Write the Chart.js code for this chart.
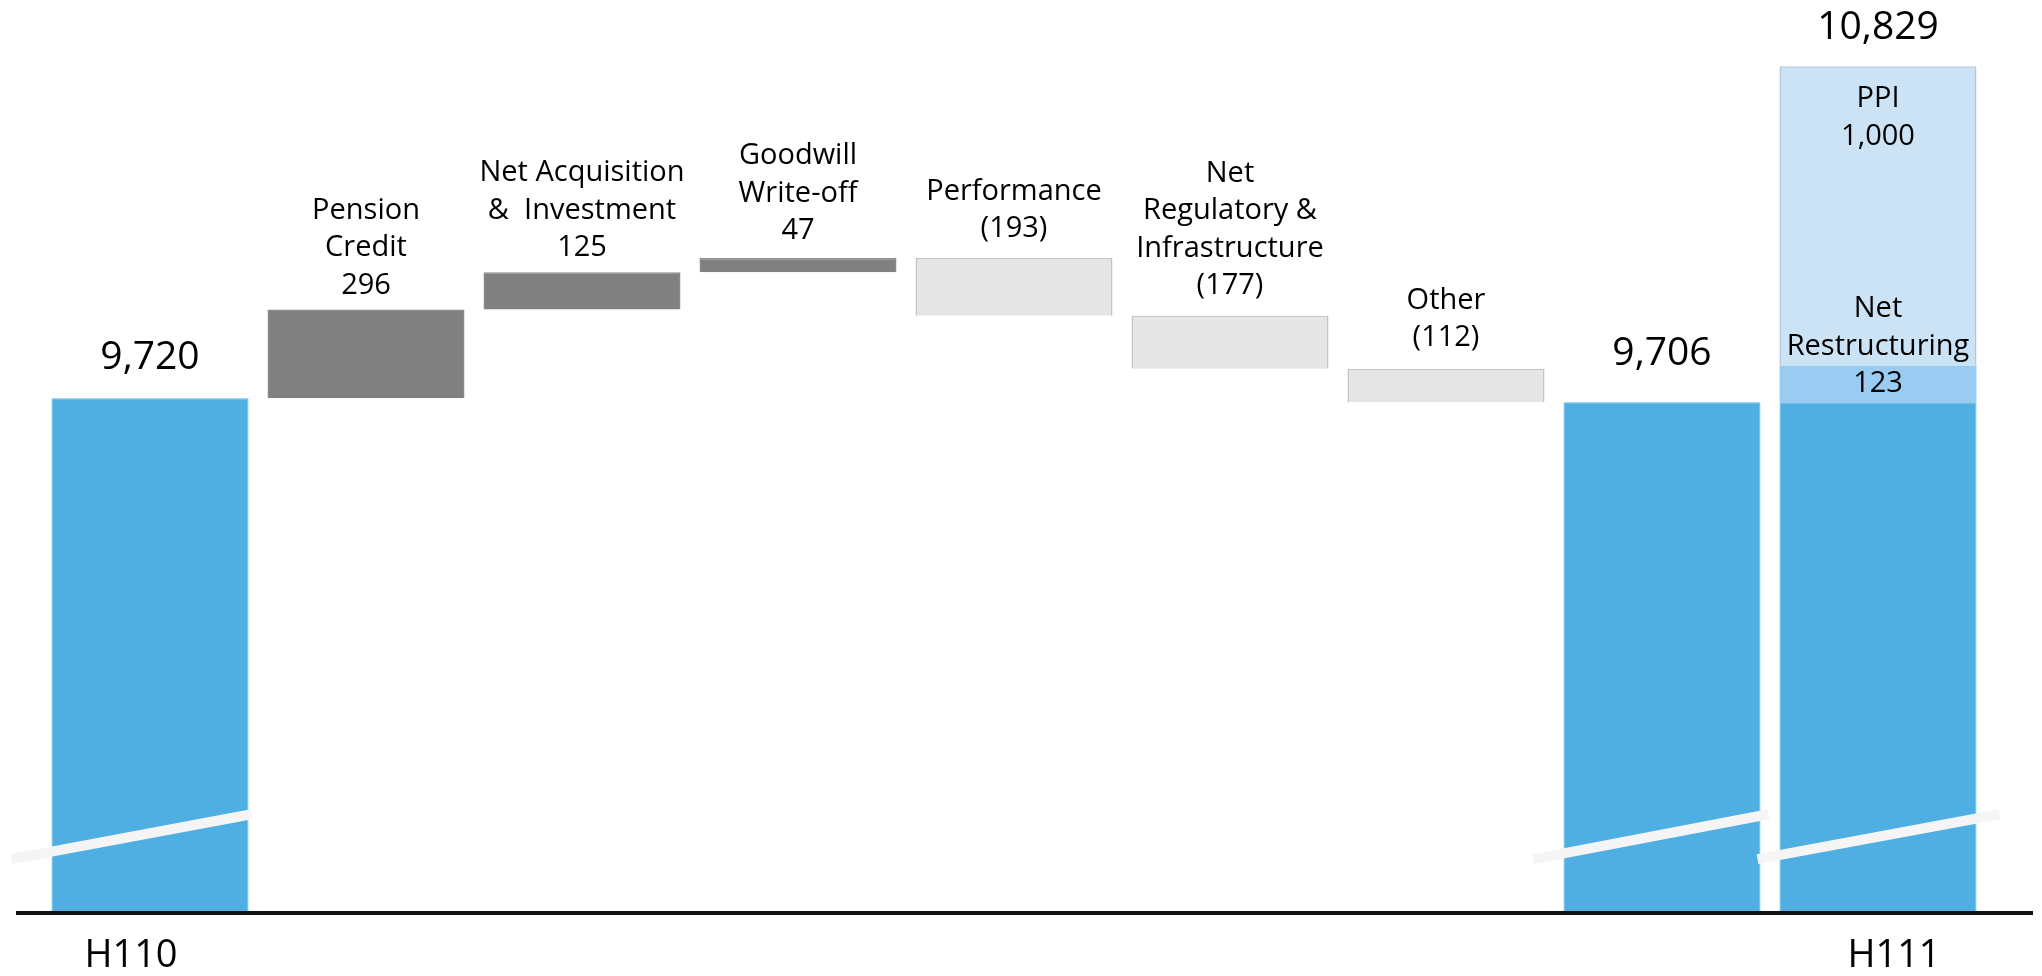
<!DOCTYPE html>
<html>
<head>
<meta charset="utf-8">
<script src="https://cdn.jsdelivr.net/npm/chart.js@4/dist/chart.umd.min.js"></script>
<style>
  html, body { margin: 0; padding: 0; background: #fff; }
  #wrap { width: 2042px; height: 976px; }
</style>
</head>
<body>
<div id="wrap"><canvas id="bridge-chart"></canvas></div>
<script>
// DATA
const categories = ['H110', 'Pension Credit', 'Net Acquisition & Investment', 'Goodwill Write-off',
  'Performance', 'Net Regulatory & Infrastructure', 'Other', 'H111 underlying', 'H111'];
const tickLabels = ['H110', '', '', '', '', '', '', '', 'H111'];
const stepNames = [[], ['Pension', 'Credit'], ['Net Acquisition', '&  Investment'], ['Goodwill', 'Write-off'],
  ['Performance'], ['Net', 'Regulatory &', 'Infrastructure'], ['Other'], [], []];
const openingTotal = 9720;
const stepChanges = [296, 125, 47, -193, -177, -112];
const closingTotal = 9706;
const adjustNames = [['Net', 'Restructuring'], ['PPI']];
const adjustValues = [123, 1000];
const axisFloor = 8000; // axis is broken, bars start here
const axisTop = 11000;

// build the waterfall ranges
const fmt = v => v < 0 ? '(' + Math.abs(v).toLocaleString('en-US') + ')' : v.toLocaleString('en-US');
const n = categories.length;
const totals = new Array(n).fill(null);
const steps = new Array(n).fill(null);
const stepColors = new Array(n).fill('#808080');
const stepBorders = new Array(n).fill('#808080');
totals[0] = [axisFloor, openingTotal];
let running = openingTotal;
stepChanges.forEach((c, i) => {
  steps[i + 1] = [running, running + c];
  stepColors[i + 1] = c >= 0 ? '#808080' : '#E5E5E5';
  stepBorders[i + 1] = c >= 0 ? '#8a8a8a' : '#C4C4C4';
  running += c;
});
totals[7] = [axisFloor, closingTotal];
totals[8] = [axisFloor, closingTotal];
const adjRanges = [];
let acc = closingTotal;
adjustValues.forEach(v => { adjRanges.push([acc, acc + v]); acc += v; });
const finalTotal = acc;
const adjData = adjRanges.map(r => { const d = new Array(n).fill(null); d[8] = r; return d; });

const FONT = "'Open Sans', 'Noto Sans', sans-serif";
const BLUE = '#4FAEE2';

// labels, break marks and base line
const decorPlugin = {
  id: 'decor',
  afterDatasetsDraw(chart) {
    const { ctx } = chart;
    const x = chart.scales.x, y = chart.scales.y;
    const half = chart.getDatasetMeta(0).data[0].width / 2;
    ctx.save();

    // break marks across the full bars
    ctx.strokeStyle = '#F5F5F5';
    ctx.lineWidth = 10;
    ctx.lineCap = 'butt';
    [[0, 40, 3], [7, 30, 8], [8, 22, 23]].forEach(([i, extL, extR]) => {
      const cx = x.getPixelForValue(i);
      ctx.beginPath();
      ctx.moveTo(cx - half - extL, y.getPixelForValue(8180));
      ctx.lineTo(cx + half + extR, y.getPixelForValue(8330));
      ctx.stroke();
    });

    // base line
    ctx.strokeStyle = '#111';
    ctx.lineWidth = 4;
    const by = y.getPixelForValue(axisFloor);
    ctx.beginPath();
    ctx.moveTo(16, by);
    ctx.lineTo(2033, by);
    ctx.stroke();

    ctx.fillStyle = '#000';
    ctx.textAlign = 'center';
    ctx.textBaseline = 'middle';

    // totals
    ctx.font = '39px ' + FONT;
    [[0, openingTotal, 40], [7, closingTotal, 48], [8, finalTotal, 38]].forEach(([i, v, gap]) => {
      ctx.fillText(fmt(v), x.getPixelForValue(i), y.getPixelForValue(v) - gap);
    });

    // step labels above each floating bar
    ctx.font = '29px ' + FONT;
    const lh = 37.5;
    const gaps = [0, 24, 24, 27, 29, 30, 31];
    stepChanges.forEach((c, k) => {
      const i = k + 1;
      const top = y.getPixelForValue(Math.max(steps[i][0], steps[i][1]));
      const lines = stepNames[i].concat([fmt(c)]);
      const cx = x.getPixelForValue(i);
      lines.forEach((t, j) => {
        ctx.fillText(t, cx, top - gaps[i] - (lines.length - 1 - j) * lh);
      });
    });

    // labels inside the final bar
    const cx8 = x.getPixelForValue(8);
    const r0 = adjRanges[0];
    const mid0 = (y.getPixelForValue(r0[0]) + y.getPixelForValue(r0[1])) / 2;
    const l0 = adjustNames[0].concat([fmt(adjustValues[0])]);
    l0.forEach((t, j) => ctx.fillText(t, cx8, mid0 - (l0.length - 1 - j) * lh));
    const top1 = y.getPixelForValue(adjRanges[1][1]);
    const l1 = adjustNames[1].concat([fmt(adjustValues[1])]);
    l1.forEach((t, j) => ctx.fillText(t, cx8, top1 + 33 + j * 38));

    // category ticks (slightly off-centre, as in the original)
    ctx.font = '38px ' + FONT;
    const tickShift = [-19, 0, 0, 0, 0, 0, 0, 0, 16];
    tickLabels.forEach((t, i) => {
      if (t) ctx.fillText(t, x.getPixelForValue(i) + tickShift[i], by + 43);
    });
    ctx.restore();
  }
};

const cfg = {
  type: 'bar',
  data: {
    labels: categories,
    datasets: [
      { label: 'Total', data: totals, backgroundColor: BLUE, borderColor: '#5DB2E0', borderWidth: 1, grouped: false },
      { label: 'Change', data: steps, backgroundColor: stepColors, borderColor: stepBorders, borderWidth: 1.5, grouped: false },
      { label: adjustNames[0].join(' '), data: adjData[0], backgroundColor: '#99CCF0', borderWidth: 0, grouped: false },
      { label: adjustNames[1].join(' '), data: adjData[1], backgroundColor: '#CCE2F5', borderColor: '#AFC6DC', borderWidth: 1.5, grouped: false }
    ]
  },
  options: {
    responsive: false,
    animation: false,
    layout: { padding: { left: 42, right: 56, top: 15, bottom: 63 } },
    categoryPercentage: 1,
    barPercentage: 0.912,
    plugins: { legend: { display: false }, tooltip: { enabled: false } },
    scales: {
      x: { display: false },
      y: { display: false, min: axisFloor, max: axisTop }
    }
  },
  plugins: [decorPlugin]
};

const canvas = document.querySelector('#bridge-chart');
canvas.width = 2042;
canvas.height = 976;
new Chart(canvas, cfg);
</script>
</body>
</html>
